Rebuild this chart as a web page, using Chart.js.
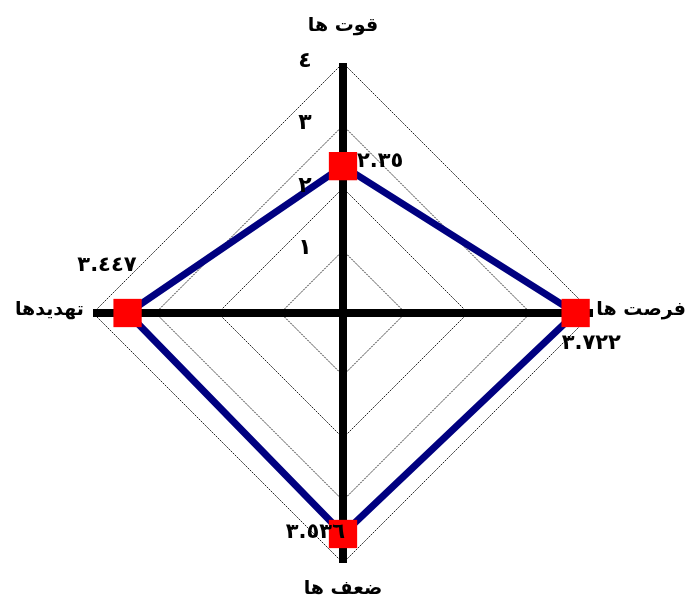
<!DOCTYPE html>
<html>
<head>
<meta charset="utf-8">
<script src="https://cdn.jsdelivr.net/npm/chart.js@4"></script>
<style>
  html, body { margin: 0; padding: 0; background: #fff; }
  #wrap { width: 687px; height: 599px; }
</style>
</head>
<body>
<div id="wrap"><canvas id="swotChart"></canvas></div>
<script>
// axes, clockwise from the top
const categories = ['قوت ها', 'فرصت ها', 'ضعف ها', 'تهدیدها'];
const scores = [2.35, 3.722, 3.536, 3.447];
const scoreLabels = ['٢.٣٥', '٣.٧٢٢', '٣.٥٣٦', '٣.٤٤٧'];
const tickValues = [1, 2, 3, 4];
const tickLabels = ['١', '٢', '٣', '٤'];

const FONT = "'DejaVu Sans', sans-serif";

// where the axis names sit, measured from the centre
const categoryPlacement = [
    { dist: 284, align: 'center' },
    { dist: 343, align: 'right' },
    { dist: 279, align: 'center' },
    { dist: 259, align: 'right' }
];

// value labels next to each marker
const labelOffsets = [
    { dx: 14, dy: -5, align: 'left' },
    { dx: -14, dy: 31, align: 'left' },
    { dx: 2, dy: -1, align: 'right' },
    { dx: 9, dy: -47, align: 'right' }
];

const extrasPlugin = {
    id: 'extras',
    afterDatasetsDraw(chart) {
        const ctx = chart.ctx;
        const scale = chart.scales.r;
        ctx.save();
        ctx.fillStyle = '#000';
        ctx.textBaseline = 'middle';

        // tick numbers, left of the vertical axis
        ctx.font = 'bold 22px ' + FONT;
        ctx.textAlign = 'center';
        tickValues.forEach((v, i) => {
            const p = scale.getPointPositionForValue(0, v);
            ctx.fillText(tickLabels[i], p.x - 38, p.y - 2);
        });

        // axis names
        ctx.font = 'bold 19px ' + FONT;
        categories.forEach((name, i) => {
            const o = categoryPlacement[i];
            const p = scale.getPointPosition(i, o.dist);
            ctx.textAlign = o.align;
            ctx.fillText(name, p.x, p.y - 3);
        });

        // value labels
        const meta = chart.getDatasetMeta(0);
        ctx.font = 'bold 21px ' + FONT;
        meta.data.forEach((pt, i) => {
            const o = labelOffsets[i];
            ctx.textAlign = o.align;
            ctx.fillText(scoreLabels[i], pt.x + o.dx, pt.y + o.dy);
        });
        ctx.restore();
    }
};

const ctx = document.getElementById('swotChart').getContext('2d');
const swotChart = new Chart(ctx, {
    type: 'radar',
    data: {
        labels: categories,
        datasets: [{
            data: scores,
            borderColor: '#000080',
            borderWidth: 7,
            fill: false,
            tension: 0,
            pointStyle: 'rect',
            pointRadius: 20,
            pointHoverRadius: 20,
            pointBackgroundColor: '#ff0000',
            pointBorderWidth: 0
        }]
    },
    options: {
        responsive: true,
        maintainAspectRatio: false,
        animation: false,
        layout: {
            padding: { top: 63, bottom: 36, left: 93, right: 94 }
        },
        scales: {
            r: {
                min: 0,
                max: 4,
                ticks: { stepSize: 1, display: false },
                grid: {
                    circular: false,
                    color: '#222',
                    lineWidth: 1
                },
                border: { dash: [2, 1] },
                angleLines: {
                    color: '#000',
                    lineWidth: 8
                },
                pointLabels: { display: false }
            }
        },
        plugins: {
            legend: { display: false },
            tooltip: { enabled: false }
        }
    },
    plugins: [extrasPlugin]
});
</script>
</body>
</html>
